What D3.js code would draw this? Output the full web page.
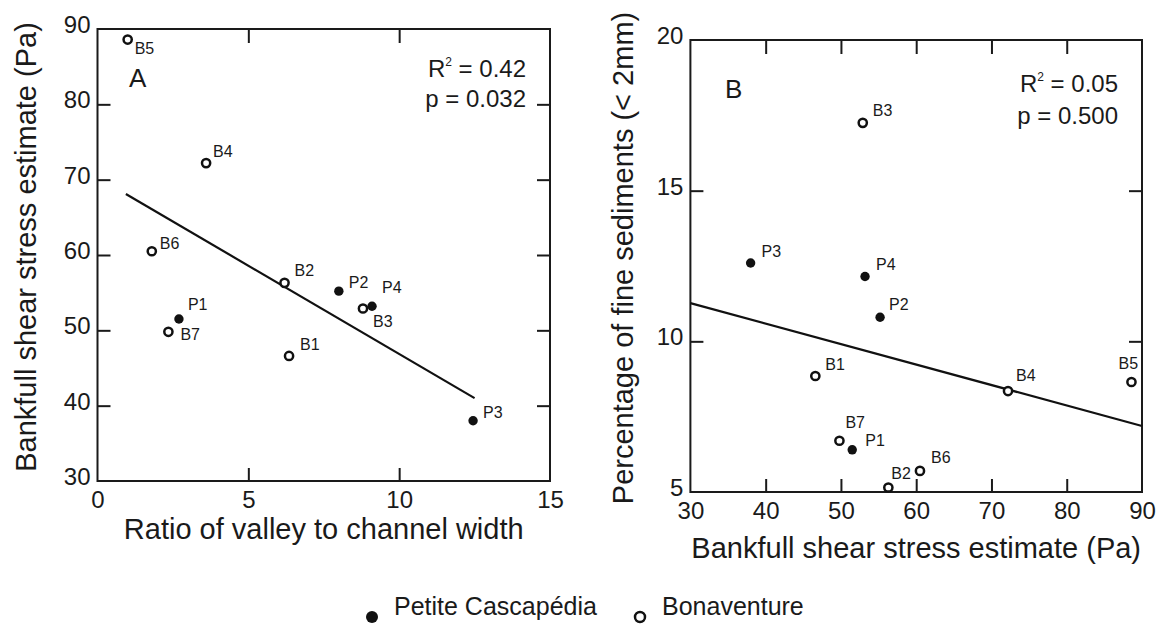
<!DOCTYPE html>
<html>
<head lang="en">
    <meta charset="UTF-8">
    <title></title>
    <script src="https://cdn.jsdelivr.net/npm/d3@7/dist/d3.min.js"></script>
    <style>
        body{margin:0;background:#fff;}
        svg text{font-family:"Liberation Sans",Arial,sans-serif;fill:#1a1a1a;}
    </style>
</head>
<body>
</body>
</html>
<script>
    // sites, river each belongs to, and values
    var sites=["B1","B2","B3","B4","B5","B6","B7","P1","P2","P3","P4"];
    var rivers=["Bonaventure","Bonaventure","Bonaventure","Bonaventure","Bonaventure","Bonaventure","Bonaventure",
        "Petite Cascapédia","Petite Cascapédia","Petite Cascapédia","Petite Cascapédia"];
    var valleyRatio=[6.35,6.2,8.8,3.6,1.0,1.8,2.35,2.7,8.0,12.45,9.1];
    var shearStress=[46.6,56.3,52.9,72.2,88.6,60.5,49.8,51.5,55.2,38.0,53.2];
    var finesPct=[8.85,5.15,17.25,8.35,8.65,5.7,6.7,6.4,10.8,12.6,12.15];

    // fitted lines (end points) and stats
    var fitAx=[0.94,12.5], fitAy=[68.1,41.0];
    var fitBx=[30,90], fitBy=[11.27,7.19];
    var statsA=["0.42","0.032"], statsB=["0.05","0.500"];

    var ticksA_x=[0,5,10,15], ticksA_y=[30,40,50,60,70,80,90];
    var ticksB_x=[30,40,50,60,70,80,90], ticksB_y=[5,10,15,20];

    // label offsets (px) for each site, per panel
    var offA={B1:[11,-6],B2:[10,-7],B3:[10,19],B4:[7,-6],B5:[7,14],B6:[8,-2],B7:[12,8],
        P1:[9,-9],P2:[10,-3],P3:[10,-3],P4:[10,-13]};
    var offB={B1:[10,-6],B2:[3,-8],B3:[10,-7],B4:[8,-10],B5:[-13,-13],B6:[11,-8],B7:[6,-13],
        P1:[13,-4],P2:[9,-7],P3:[11,-6],P4:[11,-7]};

    var _svg=d3.select('body').append('svg')
            .attr('width',1157)
            .attr('height',630);

    function panel(cfg){
        var x=d3.scaleLinear().domain(cfg.xd).range([cfg.l,cfg.r]);
        var y=d3.scaleLinear().domain(cfg.yd).range([cfg.b,cfg.t]);
        var g=_svg.append('g');
        var inner=function(v,d){return v>d[0]&&v<d[1];};

        // axes with inward ticks
        var ax=g.append('g').attr('transform','translate(0,'+cfg.b+')')
                .call(d3.axisBottom(x).tickValues(cfg.xt).tickSizeInner(-13).tickSizeOuter(0).tickPadding(10));
        var ay=g.append('g').attr('transform','translate('+cfg.l+',0)')
                .call(d3.axisLeft(y).tickValues(cfg.yt).tickSizeInner(-13).tickSizeOuter(0).tickPadding(7));
        var at=g.append('g').attr('transform','translate(0,'+cfg.t+')')
                .call(d3.axisTop(x).tickValues(cfg.xt.filter(function(v){return inner(v,cfg.xd);})).tickSizeInner(-14).tickSizeOuter(0).tickFormat(''));
        var ar=g.append('g').attr('transform','translate('+cfg.r+',0)')
                .call(d3.axisRight(y).tickValues(cfg.yt.filter(function(v){return inner(v,cfg.yd);})).tickSizeInner(-13).tickSizeOuter(0).tickFormat(''));
        [ax,ay,at,ar].forEach(function(a){
            a.select('.domain').remove();
            a.selectAll('line').attr('stroke','#1a1a1a').attr('stroke-width',2);
        });
        ax.selectAll('.tick').filter(function(d){return !inner(d,cfg.xd);}).select('line').remove();
        ay.selectAll('.tick').filter(function(d){return !inner(d,cfg.yd);}).select('line').remove();
        ax.selectAll('text').attr('font-size',24).attr('fill','#1a1a1a').attr('font-family',null);
        ay.selectAll('text').attr('font-size',24).attr('fill','#1a1a1a').attr('font-family',null).attr('dy','0.15em');

        g.append('rect')
                .attr('x',cfg.l).attr('y',cfg.t)
                .attr('width',cfg.r-cfg.l).attr('height',cfg.b-cfg.t)
                .attr('fill','none').attr('stroke','#1a1a1a').attr('stroke-width',2);

        // regression line
        g.append('line')
                .attr('x1',x(cfg.fx[0])).attr('y1',y(cfg.fy[0]))
                .attr('x2',x(cfg.fx[1])).attr('y2',y(cfg.fy[1]))
                .attr('stroke','#111').attr('stroke-width',2.2);

        // points
        var pts=g.selectAll('.pt')
                .data(sites)
                .enter()
                .append('g')
                .attr('class','pt');
        pts.append('circle')
                .attr('cx',function(d,i){return x(cfg.xv[i]);})
                .attr('cy',function(d,i){return y(cfg.yv[i]);})
                .attr('r',function(d,i){return rivers[i]=='Bonaventure'?4.1:4.7;})
                .attr('fill',function(d,i){return rivers[i]=='Bonaventure'?'#fff':'#111';})
                .attr('stroke','#111')
                .attr('stroke-width',function(d,i){return rivers[i]=='Bonaventure'?2.5:0;});
        pts.append('text')
                .attr('x',function(d,i){return x(cfg.xv[i])+cfg.off[d][0];})
                .attr('y',function(d,i){return y(cfg.yv[i])+cfg.off[d][1];})
                .attr('font-size',16)
                .text(function(d){return d;});

        // panel letter
        g.append('text')
                .attr('x',cfg.lx).attr('y',cfg.ly)
                .attr('font-size',26)
                .text(cfg.letter);

        // stats
        var st=g.append('text')
                .attr('x',cfg.sx).attr('y',cfg.sy)
                .attr('text-anchor','end')
                .attr('font-size',24);
        st.append('tspan').text('R');
        st.append('tspan').attr('font-size',12).attr('dy',-11).text('2');
        st.append('tspan').attr('dy',11).text(' = '+cfg.stats[0]);
        g.append('text')
                .attr('x',cfg.sx).attr('y',cfg.sy+cfg.sgap)
                .attr('text-anchor','end')
                .attr('font-size',24)
                .text('p = '+cfg.stats[1]);

        // axis titles
        g.append('text')
                .attr('x',(cfg.l+cfg.r)/2).attr('y',cfg.xty)
                .attr('text-anchor','middle')
                .attr('font-size',29)
                .text(cfg.xtitle);
        g.append('text')
                .attr('transform','translate('+cfg.ytx+','+cfg.yty+') rotate(-90)')
                .attr('text-anchor','middle')
                .attr('font-size',29)
                .text(cfg.ytitle);
    }

    panel({l:97.5,r:550,t:29,b:481,xd:[0,15],yd:[30,90],xt:ticksA_x,yt:ticksA_y,
        xv:valleyRatio,yv:shearStress,fx:fitAx,fy:fitAy,off:offA,
        letter:'A',lx:129,ly:87,stats:statsA,sx:526,sy:77,sgap:30,
        xtitle:'Ratio of valley to channel width',xty:539,
        ytitle:'Bankfull shear stress estimate (Pa)',ytx:36,yty:247});

    panel({l:690.4,r:1142,t:40,b:492,xd:[30,90],yd:[5,20],xt:ticksB_x,yt:ticksB_y,
        xv:shearStress,yv:finesPct,fx:fitBx,fy:fitBy,off:offB,
        letter:'B',lx:725,ly:98,stats:statsB,sx:1118,sy:92,sgap:32,
        xtitle:'Bankfull shear stress estimate (Pa)',xty:558,
        ytitle:'Percentage of fine sediments (< 2mm)',ytx:633,yty:258});

    // legend
    var legend=[{name:'Petite Cascapédia',filled:true,x:372},{name:'Bonaventure',filled:false,x:640}];
    var lg=_svg.selectAll('.legend')
            .data(legend)
            .enter()
            .append('g')
            .attr('class','legend');
    lg.append('circle')
            .attr('cx',function(d){return d.x;})
            .attr('cy',617)
            .attr('r',function(d){return d.filled?6:5;})
            .attr('fill',function(d){return d.filled?'#111':'#fff';})
            .attr('stroke','#111')
            .attr('stroke-width',function(d){return d.filled?0:2.5;});
    lg.append('text')
            .attr('x',function(d){return d.x+22;})
            .attr('y',615)
            .attr('font-size',25)
            .text(function(d){return d.name;});
</script>
